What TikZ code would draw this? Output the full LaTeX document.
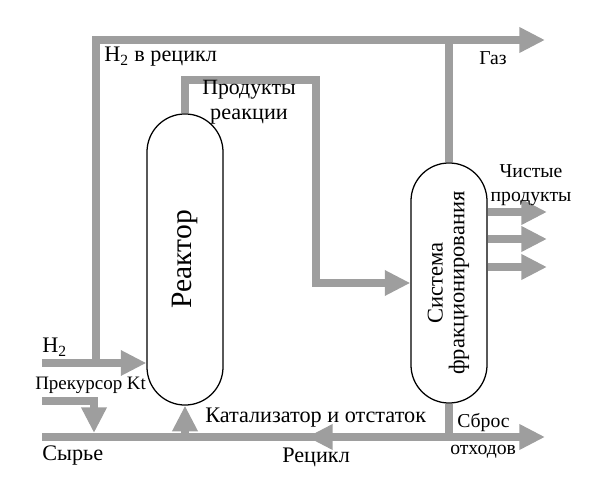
\documentclass[tikz,border=0pt]{standalone}
\usepackage{fontspec}
\setmainfont{Liberation Serif}
\usepackage{tikz}
\usetikzlibrary{positioning, arrows.meta}

\definecolor{pipegray}{RGB}{158,158,158}
\tikzset{
    pipe/.style={draw=pipegray, line width=2mm},
    flow/.style={pipe, -{Triangle[length=6.4mm, width=6mm]}},
    vessel/.style={draw, line width=0.9pt, fill=white, rounded corners=9.5mm,
        minimum width=19mm, inner sep=0pt},
    lbl/.style={inner sep=0pt, font=\fontsize{15.8pt}{18pt}\selectfont},
    smalllbl/.style={inner sep=0pt, font=\fontsize{14pt}{17pt}\selectfont}
}

\begin{document}
\begin{tikzpicture}[x=0.025cm, y=-0.025cm]
        \useasboundingbox (0,0) rectangle (600,478);
        \node[vessel, minimum height=72.75mm] (reactor) at (185,259.5)
            {\rotatebox{90}{\fontsize{21pt}{21pt}\selectfont Реактор}};
        \node[vessel, minimum height=60mm] (column) at (449,283)
            {\rotatebox{90}{\fontsize{16pt}{14pt}\selectfont
                \begin{tabular}{@{}c@{}}Система\\фракционирования\end{tabular}}};

        \coordinate (h2in) at (42,363);
        \coordinate (ktin) at (42,401);
        \coordinate (ktdrop) at (94,433);
        \coordinate (feedin) at (42,437);
        \coordinate (recyclefork) at (96,363);
        \coordinate (gasout) at (545,40);
        \coordinate (prodturn) at (316,80);
        \coordinate (wasteout) at (545,437);
        \coordinate (recyclehead) at (307,437);

        \draw[flow] (recyclefork) |- (gasout);
        \draw[pipe] (column.north) -- (column.north |- gasout);
        \draw[flow] (reactor.north) |- (prodturn) |- (column.west);
        \draw[flow] (h2in) -- (h2in -| reactor.west);
        \draw[flow] (ktin) -| (ktdrop);
        \draw[flow] (feedin) -- (wasteout);
        \draw[pipe] (column.south) -- (column.south |- wasteout);
        \draw[flow] (column.south |- wasteout) -- (recyclehead);
        \draw[flow] (reactor.south |- feedin) -- (reactor.south);
        \foreach \y [count=\i] in {212,239,267}{
            \coordinate (pure\i) at (547,\y);
            \draw[flow] (pure\i -| column.east) -- (pure\i);
        }

        \node[lbl, anchor=base west] (recyclelbl) at (104,62) {H\textsubscript{2} в рецикл};
        \node[smalllbl, anchor=base west] (gaslbl) at (479,65) {Газ};
        \node[lbl, align=center] (prodlbl) at (249,102)
            {\fontsize{15.5pt}{11pt}\selectfont Продукты\\реакции};
        \node[smalllbl, align=center] (purelbl) at (531,185)
            {\fontsize{14pt}{11pt}\selectfont Чистые\\продукты};
        \node[lbl, anchor=base west] (h2lbl) at (42,353) {H\textsubscript{2}};
        \node[lbl, anchor=base west, font=\fontsize{13.5pt}{16pt}\selectfont] (ktlbl) at (35,390) {Прекурсор Kt};
        \node[lbl, anchor=base west] (feedlbl) at (42,461) {Сырье};
        \node[lbl, anchor=base west] (catlbl) at (205,423) {Катализатор и отстаток};
        \node[lbl, anchor=base west] (recyclelbl2) at (282,463) {Рецикл};
        \node[smalllbl, anchor=base west] (wastelbl) at (457,428) {Сброс};
        \node[smalllbl, anchor=base west] (wastelbl2) at (450,455) {отходов};
\end{tikzpicture}
\end{document}
